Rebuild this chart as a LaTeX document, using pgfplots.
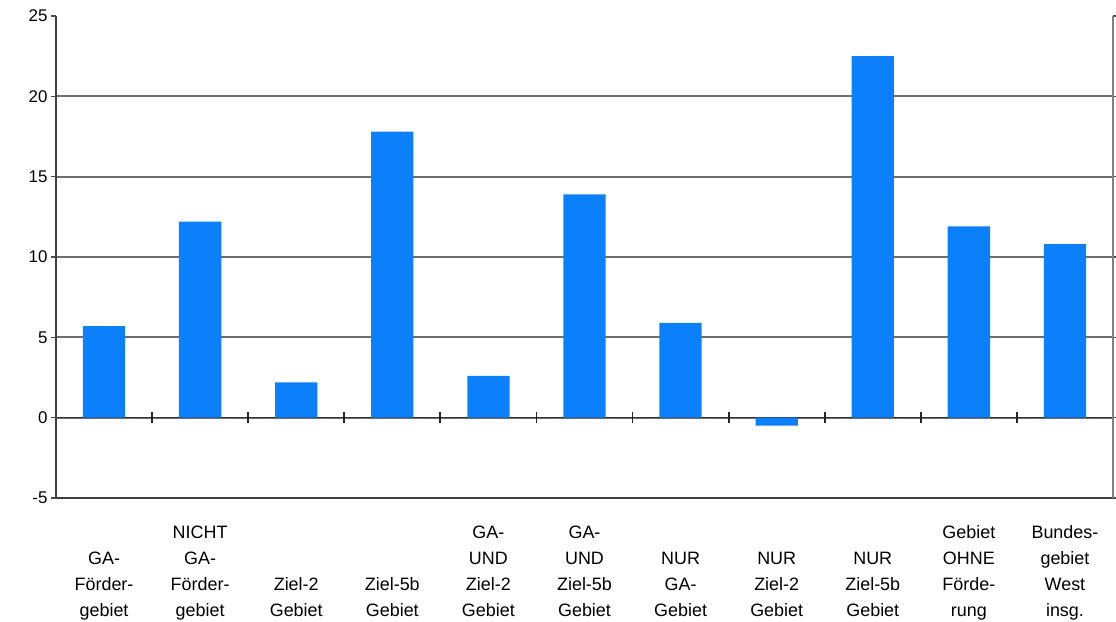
\documentclass[border=0pt]{standalone}
\usepackage{fontspec}
\setmainfont{Liberation Sans}
\usepackage{pgfplots}
\pgfplotsset{compat=1.18}
\definecolor{barblue}{RGB}{12,128,250}
\definecolor{gridgray}{RGB}{110,110,110}
\begin{document}
\begin{tikzpicture}
\useasboundingbox (-56bp,-124bp) rectangle (1060bp,498bp);
\begin{axis}[
  at={(0,0)}, anchor=south west,
  scale only axis, width=1057bp, height=482bp,
  xmin=-0.5, xmax=10.5, ymin=-5, ymax=25,
  axis line style={draw=none},
  ybar, bar width=0.44,
  xtick={0,...,10},
  xticklabels={
    {GA-\\Förder-\\gebiet\strut},
    {NICHT\\GA-\\Förder-\\gebiet\strut},
    {Ziel-2\\Gebiet\strut},
    {Ziel-5b\\Gebiet\strut},
    {GA-\\UND\\Ziel-2\\Gebiet\strut},
    {GA-\\UND\\Ziel-5b\\Gebiet\strut},
    {NUR\\GA-\\Gebiet\strut},
    {NUR\\Ziel-2\\Gebiet\strut},
    {NUR\\Ziel-5b\\Gebiet\strut},
    {Gebiet\\OHNE\\Förde-\\rung\strut},
    {Bundes-\\gebiet\\West\\insg.\strut}},
  xtick style={draw=none},
  ytick={-5,0,5,10,15,20},
  extra y ticks={25},
  extra y tick style={grid=none},
  ymajorgrids,
  grid style={gridgray, line width=2bp},
  tick align=outside, major tick length=5bp,
  ytick style={draw=black!70, line width=1.2bp},
  yticklabel style={font=\fontsize{17}{20}\selectfont},
  /pgf/number format/assume math mode=true,
  xticklabel style={font=\fontsize{18}{26}\selectfont, align=center, anchor=south, yshift=-121bp, inner sep=0pt},
  clip=false,
]
\draw[black!80, line width=1.5bp] (axis cs:-0.5,0) -- (axis cs:10.5,0);
\pgfplotsinvokeforeach{0.5,1.5,...,9.5}{
  \draw[black!85, line width=1.8bp] (axis cs:#1,-0.33) -- (axis cs:#1,0.33);
}
\addplot[fill=barblue, draw=none] coordinates {
  (0,5.7) (1,12.2) (2,2.2) (3,17.8) (4,2.6) (5,13.9)
  (6,5.9) (7,-0.5) (8,22.5) (9,11.9) (10,10.8)};
\draw[black!75, line width=1.8bp] (rel axis cs:0,1) -- (rel axis cs:0,0) -- (rel axis cs:1,0);
\draw[gray, line width=1.5bp] (rel axis cs:1,0) -- (rel axis cs:1,1);
\end{axis}
\end{tikzpicture}
\end{document}
